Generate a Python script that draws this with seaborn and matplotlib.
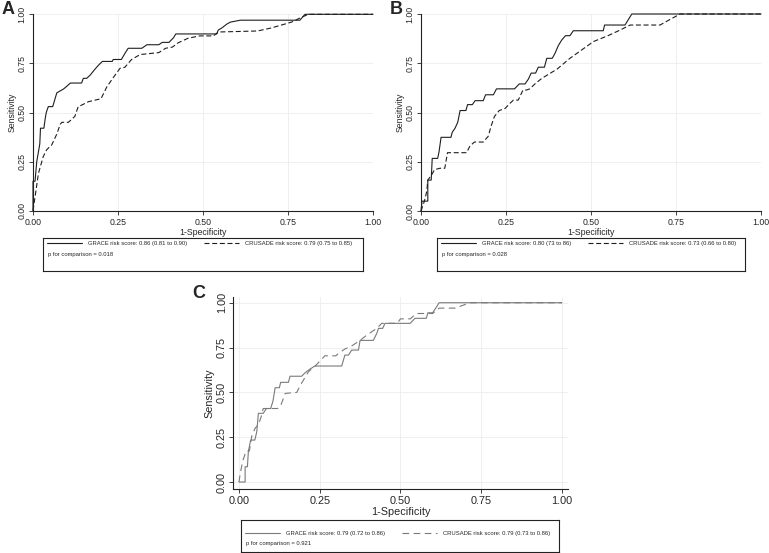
import seaborn as sns
import matplotlib.pyplot as plt

sns.set_style("white")
plt.rcParams["font.family"] = ["Liberation Sans", "DejaVu Sans"]

ticks = [0.0, 0.25, 0.5, 0.75, 1.0]
tick_labels = ["0.00", "0.25", "0.50", "0.75", "1.00"]

# panel A
a_grace_x = [0, 0, 0.006, 0.011, 0.02, 0.022, 0.032, 0.036, 0.039, 0.045, 0.058, 0.07, 0.08, 0.09,
             0.097, 0.11, 0.143, 0.148, 0.158, 0.168, 0.182, 0.192, 0.204, 0.233, 0.236, 0.26, 0.27,
             0.28, 0.32, 0.335, 0.37, 0.38, 0.40, 0.413, 0.42, 0.54, 0.545, 0.555, 0.57, 0.58, 0.61,
             0.785, 0.80, 1.0]
a_grace_y = [0, 0.15, 0.15, 0.25, 0.34, 0.42, 0.42, 0.47, 0.50, 0.53, 0.53, 0.60, 0.61, 0.62,
             0.63, 0.65, 0.65, 0.674, 0.674, 0.69, 0.72, 0.74, 0.76, 0.76, 0.77, 0.77, 0.80,
             0.827, 0.827, 0.845, 0.845, 0.857, 0.857, 0.88, 0.90, 0.90, 0.92, 0.93, 0.95, 0.96, 0.97,
             0.97, 1.0, 1.0]
a_crusade_x = [0, 0.006, 0.016, 0.03, 0.04, 0.055, 0.07, 0.08, 0.085, 0.104, 0.123, 0.133, 0.14,
               0.163, 0.20, 0.217, 0.237, 0.256, 0.27, 0.29, 0.315, 0.37, 0.39, 0.41, 0.427, 0.456,
               0.49, 0.53, 0.547, 0.66, 0.70, 0.76, 0.79, 0.81, 1.0]
a_crusade_y = [0, 0.07, 0.19, 0.275, 0.31, 0.335, 0.39, 0.44, 0.45, 0.45, 0.48, 0.53, 0.535,
               0.555, 0.57, 0.63, 0.68, 0.725, 0.73, 0.77, 0.795, 0.805, 0.827, 0.833, 0.855, 0.878,
               0.89, 0.89, 0.91, 0.915, 0.93, 0.96, 0.985, 1.0, 1.0]
a_legend = ["GRACE risk score: 0.86 (0.81 to 0.90)", "CRUSADE risk score: 0.79 (0.75 to 0.85)"]
a_p = "p for comparison = 0.018"

# panel B
b_grace_x = [0, 0.003, 0.02, 0.02, 0.03, 0.033, 0.049, 0.053, 0.059, 0.088, 0.092, 0.1, 0.108,
             0.115, 0.132, 0.137, 0.151, 0.159, 0.183, 0.19, 0.213, 0.222, 0.275, 0.289, 0.306,
             0.316, 0.324, 0.337, 0.345, 0.363, 0.37, 0.386, 0.394, 0.404, 0.414, 0.425, 0.438,
             0.448, 0.536, 0.54, 0.60, 0.62, 1.0]
b_grace_y = [0, 0.05, 0.05, 0.157, 0.157, 0.267, 0.267, 0.30, 0.374, 0.374, 0.40, 0.42, 0.45,
             0.51, 0.51, 0.54, 0.54, 0.56, 0.56, 0.59, 0.59, 0.62, 0.62, 0.645, 0.645,
             0.67, 0.70, 0.70, 0.73, 0.73, 0.775, 0.775, 0.80, 0.84, 0.868, 0.89, 0.89,
             0.915, 0.915, 0.944, 0.944, 1.0, 1.0]
b_crusade_x = [0, 0.004, 0.01, 0.017, 0.02, 0.03, 0.04, 0.056, 0.07, 0.078, 0.134, 0.144, 0.157,
               0.183, 0.198, 0.206, 0.216, 0.23, 0.247, 0.262, 0.272, 0.286, 0.30, 0.31, 0.32,
               0.335, 0.355, 0.40, 0.438, 0.507, 0.55, 0.585, 0.615, 0.703, 0.73, 0.762, 1.0]
b_crusade_y = [0, 0.02, 0.05, 0.10, 0.157, 0.18, 0.21, 0.217, 0.217, 0.296, 0.296, 0.33, 0.35,
               0.35, 0.38, 0.43, 0.48, 0.51, 0.52, 0.547, 0.563, 0.563, 0.614, 0.614, 0.62,
               0.645, 0.673, 0.72, 0.775, 0.86, 0.89, 0.918, 0.944, 0.944, 0.97, 1.0, 1.0]
b_legend = ["GRACE risk score: 0.80 (73 to 86)", "CRUSADE risk score: 0.73 (0.66 to 0.80)"]
b_p = "p for comparison = 0.028"

# panel C
c_grace_x = [0, 0.019, 0.019, 0.026, 0.029, 0.036, 0.049, 0.055, 0.06, 0.075, 0.085, 0.098,
             0.105, 0.112, 0.125, 0.129, 0.153, 0.158, 0.194, 0.205, 0.22, 0.235, 0.318, 0.328,
             0.339, 0.349, 0.37, 0.375, 0.416, 0.427, 0.432, 0.445, 0.452, 0.53, 0.545, 0.58,
             0.585, 0.60, 0.62, 1.0]
c_grace_y = [0, 0, 0.085, 0.085, 0.17, 0.234, 0.234, 0.28, 0.383, 0.383, 0.41, 0.41,
             0.45, 0.526, 0.526, 0.556, 0.556, 0.59, 0.59, 0.61, 0.63, 0.647, 0.647, 0.708,
             0.708, 0.736, 0.736, 0.79, 0.79, 0.83, 0.857, 0.857, 0.885, 0.885, 0.913, 0.913,
             0.944, 0.944, 1.0, 1.0]
c_crusade_x = [0, 0.004, 0.012, 0.022, 0.032, 0.04, 0.05, 0.06, 0.068, 0.075, 0.12, 0.13, 0.143,
               0.179, 0.19, 0.215, 0.236, 0.266, 0.30, 0.31, 0.328, 0.35, 0.375, 0.396, 0.427,
               0.442, 0.49, 0.50, 0.53, 0.55, 0.60, 0.62, 0.67, 0.715, 1.0]
c_crusade_y = [0, 0.05, 0.12, 0.173, 0.173, 0.26, 0.30, 0.32, 0.36, 0.41, 0.41, 0.43, 0.494,
               0.50, 0.54, 0.615, 0.647, 0.704, 0.704, 0.72, 0.742, 0.76, 0.79, 0.82, 0.857,
               0.885, 0.885, 0.91, 0.91, 0.94, 0.94, 0.97, 0.97, 1.0, 1.0]
c_legend = ["GRACE risk score: 0.79 (0.72 to 0.86)", "CRUSADE risk score: 0.79 (0.73 to 0.86)"]
c_p = "p for comparison = 0.921"

W, H = 769, 553
fig = plt.figure(figsize=(W / 100, H / 100), dpi=100)


def px_rect(left, top, right, bottom):
    return [left / W, 1 - bottom / H, (right - left) / W, (bottom - top) / H]


def roc_panel(rect, xlim, ylim, gx, gy, cx, cy, color, dash, fs, lab_fs, ylabpad):
    ax = fig.add_axes(rect)
    ax.set_axisbelow(True)
    sns.lineplot(x=gx, y=gy, sort=False, estimator=None, color=color, lw=0.8,
                 clip_on=False, ax=ax)
    sns.lineplot(x=cx, y=cy, sort=False, estimator=None, color=color, lw=0.8,
                 linestyle=(0, dash), clip_on=False, ax=ax)
    ax.set_xlim(*xlim)
    ax.set_ylim(*ylim)
    ax.set_xticks(ticks, tick_labels)
    ax.set_yticks(ticks, tick_labels)
    plt.setp(ax.get_yticklabels(), rotation=90, va="center")
    ax.grid(True, color="#ececec", lw=0.6)
    for s in ["top", "right"]:
        ax.spines[s].set_visible(False)
    for s in ["left", "bottom"]:
        ax.spines[s].set_color("#222222")
        ax.spines[s].set_linewidth(0.8)
    ax.tick_params(direction="out", length=3, width=0.6, color="#222222",
                   labelsize=fs, pad=2, left=True, bottom=True)
    ax.tick_params(axis="y", pad=1.5)
    ax.set_xlabel("1-Specificity", fontsize=lab_fs, labelpad=1)
    ax.set_ylabel("Sensitivity", fontsize=lab_fs, labelpad=ylabpad)
    return ax


def legend_box(rect, labels, ptext, color, dash, row1, row2):
    lax = fig.add_axes(rect)
    lax.set_xticks([])
    lax.set_yticks([])
    for s in lax.spines.values():
        s.set_color("#222222")
        s.set_linewidth(0.8)
    h1, = lax.plot([], [], color=color, lw=0.8)
    h2, = lax.plot([], [], color=color, lw=0.8, linestyle=(0, dash))
    lax.legend([h1, h2], labels, ncol=2, loc="center left", bbox_to_anchor=(0.012, row1),
               frameon=False, fontsize=4.2, handlelength=6.0, handletextpad=1.0,
               columnspacing=3.0, borderpad=0, borderaxespad=0)
    lax.text(0.016, row2, ptext, fontsize=4.2, va="center", ha="left", transform=lax.transAxes)


dark = "#1e1e1e"
grey = "#7a7a7a"

roc_panel(px_rect(33, 14.3, 373, 210.7), (0, 1), (0, 1),
          a_grace_x, a_grace_y, a_crusade_x, a_crusade_y, dark, (4.5, 2.4), 6.3, 6.3, 0.5)
legend_box(px_rect(43, 238, 363, 271), a_legend, a_p, dark, (4.5, 2.4), 0.84, 0.5)

roc_panel(px_rect(421, 14, 761, 211), (0, 1), (0, 1),
          b_grace_x, b_grace_y, b_crusade_x, b_crusade_y, dark, (4.5, 2.4), 6.3, 6.3, 0.5)
legend_box(px_rect(437, 238, 745, 271), b_legend, b_p, dark, (4.5, 2.4), 0.84, 0.5)

roc_panel(px_rect(233, 297, 568, 489), (-0.0186, 1.019), (-0.039, 1.032),
          c_grace_x, c_grace_y, c_crusade_x, c_crusade_y, grey, (6, 4), 7.8, 7.8, 1.5)
legend_box(px_rect(241, 520, 559, 552), c_legend, c_p, grey, (6, 4), 0.58, 0.27)

fig.text(2 / W, 1 - 1 / H, "A", fontsize=13, weight="bold", va="top", ha="left")
fig.text(390 / W, 1 - 1 / H, "B", fontsize=13, weight="bold", va="top", ha="left")
fig.text(192 / W, 1 - 285 / H, "C", fontsize=13, weight="bold", va="top", ha="left")

fig.savefig("out.png", dpi=100)
